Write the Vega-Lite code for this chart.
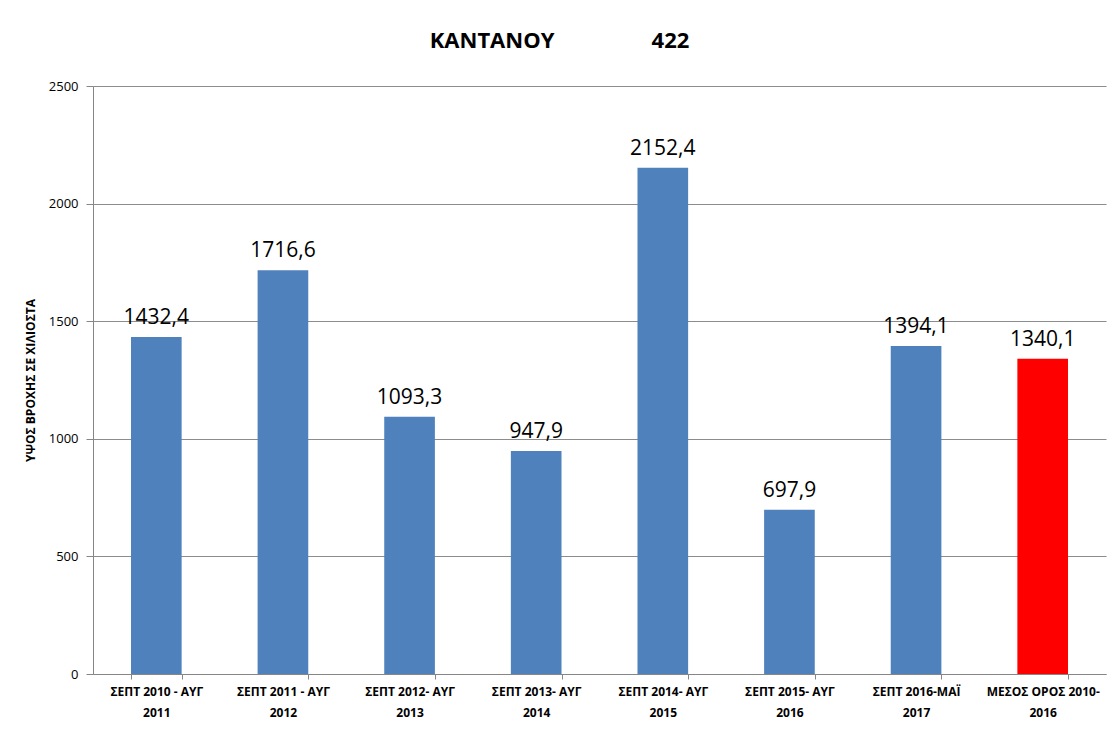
{
  "$schema": "https://vega.github.io/schema/vega-lite/v6.json",
  "width": 1013,
  "height": 588,
  "autosize": {"type": "none"},
  "padding": {"left": 93, "top": 86, "right": 1, "bottom": 55},
  "background": "white",
  "config": {
    "locale": {"number": {"decimal": ",", "thousands": ".", "grouping": [3], "currency": ["", " €"]}},
    "font": "Open Sans",
    "view": {"stroke": null}
  },
  "title": {
    "text": "ΚΑΝΤΑΝΟΥ\u00a0\u00a0\u00a0\u00a0\u00a0\u00a0\u00a0\u00a0\u00a0\u00a0\u00a0\u00a0\u00a0\u00a0\u00a0\u00a0\u00a0422",
    "font": "Open Sans",
    "fontSize": 22,
    "fontWeight": "bold",
    "color": "black",
    "anchor": "middle",
    "dx": -40,
    "offset": 27
  },
  "data": {
    "values": [
      {"period": "ΣΕΠΤ 2010 - ΑΥΓ|2011", "value": 1432.4, "kind": "year"},
      {"period": "ΣΕΠΤ 2011 - ΑΥΓ|2012", "value": 1716.6, "kind": "year"},
      {"period": "ΣΕΠΤ 2012- ΑΥΓ|2013", "value": 1093.3, "kind": "year"},
      {"period": "ΣΕΠΤ 2013- ΑΥΓ|2014", "value": 947.9, "kind": "year"},
      {"period": "ΣΕΠΤ 2014- ΑΥΓ|2015", "value": 2152.4, "kind": "year"},
      {"period": "ΣΕΠΤ 2015- ΑΥΓ|2016", "value": 697.9, "kind": "year"},
      {"period": "ΣΕΠΤ 2016-ΜΑΪ|2017", "value": 1394.1, "kind": "year"},
      {"period": "ΜΕΣΟΣ ΟΡΟΣ 2010-|2016", "value": 1340.1, "kind": "mean"}
    ]
  },
  "encoding": {
    "x": {
      "field": "period",
      "type": "nominal",
      "sort": null,
      "scale": {"paddingInner": 0.6, "paddingOuter": 0.3},
      "axis": {
        "title": null,
        "labelAngle": 0,
        "labelExpr": "split(datum.label, '|')",
        "labelFont": "Open Sans",
        "labelFontSize": 12,
        "labelFontWeight": "bold",
        "labelColor": "black",
        "labelLineHeight": 21,
        "labelPadding": 7,
        "labelLimit": 200,
        "domainColor": "#868686",
        "tickColor": "#868686",
        "tickBand": "extent",
        "tickSize": 5,
        "grid": false
      }
    },
    "y": {
      "field": "value",
      "type": "quantitative",
      "scale": {"domain": [0, 2500]},
      "axis": {
        "title": "ΥΨΟΣ ΒΡΟΧΗΣ ΣΕ ΧΙΛΙΟΣΤΑ",
        "titleFont": "Open Sans",
        "titleFontSize": 12,
        "titleFontWeight": "bold",
        "titleColor": "black",
        "titlePadding": 11,
        "values": [0, 500, 1000, 1500, 2000, 2500],
        "format": "d",
        "labelFont": "Open Sans",
        "labelFontSize": 13,
        "labelColor": "black",
        "labelPadding": 8,
        "domainColor": "#868686",
        "tickColor": "#868686",
        "tickSize": 7,
        "gridColor": "#8c8c8c",
        "gridOpacity": 1
      }
    }
  },
  "layer": [
    {
      "mark": {"type": "bar"},
      "encoding": {
        "color": {
          "field": "kind",
          "type": "nominal",
          "scale": {"domain": ["year", "mean"], "range": ["#4F81BD", "#FF0000"]},
          "legend": null
        }
      }
    },
    {
      "mark": {"type": "text", "baseline": "bottom", "dy": -9, "fontSize": 21, "font": "Open Sans", "color": "black"},
      "encoding": {
        "text": {"field": "value", "type": "quantitative", "format": ".1f"}
      }
    }
  ]
}
